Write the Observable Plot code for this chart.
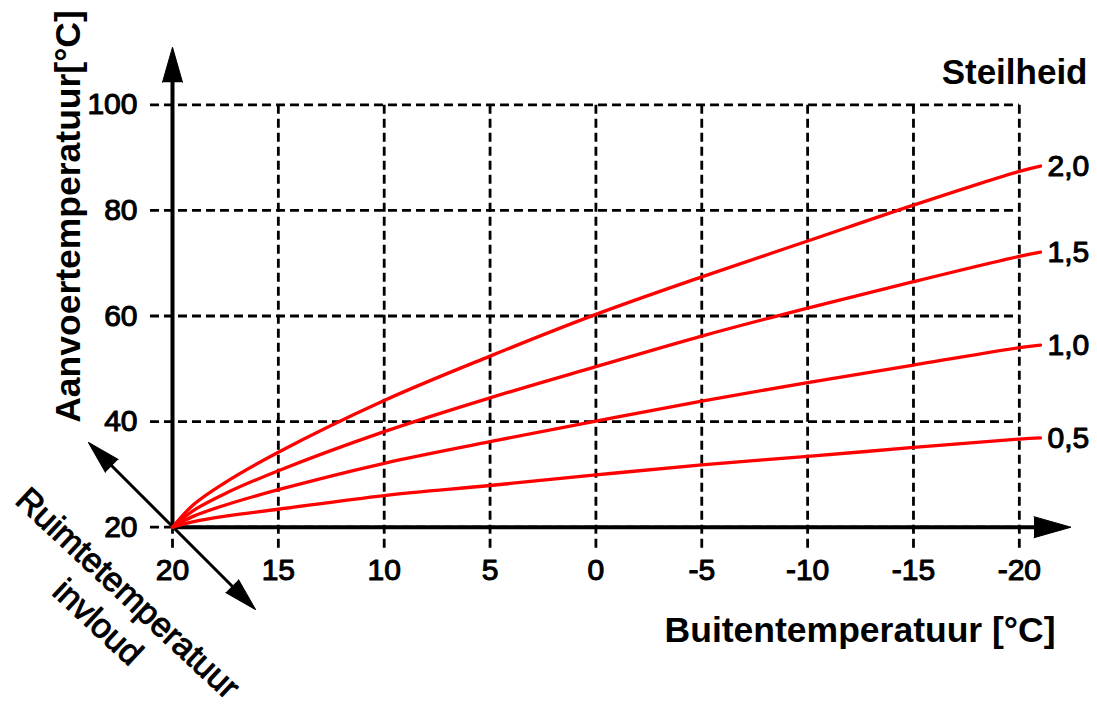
<!DOCTYPE html>
<html>
<head>
<meta charset="utf-8">
<script src="https://cdn.jsdelivr.net/npm/d3@7"></script>
<script src="https://cdn.jsdelivr.net/npm/@observablehq/plot@0.6"></script>
<style>
  html, body { margin: 0; padding: 0; background: white; }
  #chart svg { display: block; }
</style>
</head>
<body>
<div id="chart"></div>
<script>
// ---- data ----
const buitenTemp = [20, 19, 17.5, 15, 10, 5, 0, -5, -10, -15, -20, -21];
const steil20 = [20, 24.3, 28.5, 34.2, 44.0, 52.4, 60.3, 67.4, 74.2, 81.0, 87.4, 88.4];
const steil15 = [20, 23.2, 26.4, 30.7, 38.1, 44.5, 50.4, 56.2, 61.5, 66.5, 71.3, 72.1];
const steil10 = [20, 22.1, 24.2, 27.1, 32.1, 36.2, 40.1, 43.9, 47.4, 50.7, 54.0, 54.5];
const steil05 = [20, 21.05, 22.1, 23.4, 26.0, 27.9, 29.9, 31.8, 33.4, 35.1, 36.7, 36.9];
const steilLabels = ["2,0", "1,5", "1,0", "0,5"];
const xTicks = [20, 15, 10, 5, 0, -5, -10, -15, -20];
const yTicks = [20, 40, 60, 80, 100];

const series = [steil20, steil15, steil10, steil05];
const rows = [];
series.forEach((vals, i) => {
  vals.forEach((v, j) => rows.push({s: steilLabels[i], t: buitenTemp[j], v}));
});
const lastT = buitenTemp[buitenTemp.length - 1];
const endRows = rows.filter(d => d.t === lastT);

// axis decoration (data units)
const gridXStart = 21.04, gridXEnd = -20, gridYBottom = 16, gridYTop = 100;
const axisXEnd = -21, axisYEnd = 105;
const arrowHeads = [
  {x: -22.44, y: 20, rotate: 90, length: 37, r: 10.5},
  {x: 20, y: 110.9, rotate: 0, length: 35, r: 10},
  {x: 23.97, y: 36.04, rotate: -45, length: 33, r: 9},
  {x: 16.08, y: 4.42, rotate: 135, length: 33, r: 9}
];
const diagonal = [{x1: 22.98, y1: 32.06, x2: 17.07, y2: 8.39}];

const FONT = "'Liberation Sans', Arial, Helvetica, sans-serif";
const dash = "9,5";

const plot = Plot.plot({
  width: 1097,
  height: 707,
  marginLeft: 172,
  marginRight: 57,
  marginTop: 104.3,
  marginBottom: 180.3,
  x: {domain: [20, -21], axis: null},
  y: {domain: [20, 100], axis: null},
  style: {fontFamily: FONT, background: "white", color: "black", overflow: "visible"},
  marks: [
    // dashed grid
    Plot.ruleY(yTicks, {y: d => d, x1: gridXStart, x2: gridXEnd, stroke: "black", strokeWidth: 2.8, strokeDasharray: dash}),
    Plot.ruleX(xTicks, {x: d => d, y1: gridYBottom, y2: gridYTop, stroke: "black", strokeWidth: 2.8, strokeDasharray: dash}),
    // axis lines
    Plot.ruleX([20], {x: d => d, y1: 20, y2: axisYEnd, stroke: "black", strokeWidth: 4}),
    Plot.ruleY([20], {y: d => d, x1: 20, x2: axisXEnd, stroke: "black", strokeWidth: 4}),
    Plot.link(diagonal, {x1: "x1", y1: "y1", x2: "x2", y2: "y2", stroke: "black", strokeWidth: 3}),
    ...arrowHeads.map(a => Plot.vector([a], {
      x: "x", y: "y", rotate: a.rotate, length: a.length, r: a.r,
      shape: "spike", anchor: "end", fill: "black", stroke: "black", strokeWidth: 1
    })),
    // curves
    Plot.line(rows, {x: "t", y: "v", z: "s", stroke: "#ff0000", strokeWidth: 3.3, curve: "catmull-rom"}),
    Plot.text(endRows, {x: "t", y: "v", text: "s", textAnchor: "start", lineAnchor: "middle", dx: 7, fontSize: 30, fill: "black", stroke: "black", strokeWidth: 1.1}),
    // tick labels
    Plot.text(yTicks, {x: 20, y: d => d, text: d => String(d), textAnchor: "end", lineAnchor: "middle", dx: -35, fontSize: 30, fill: "black", stroke: "black", strokeWidth: 1.1}),
    Plot.text(xTicks, {x: d => d, y: 20, text: d => String(d), textAnchor: "middle", lineAnchor: "top", dy: 31, fontSize: 30, fill: "black", stroke: "black", strokeWidth: 1.1}),
    // titles
    Plot.text(["Steilheid"], {text: d => d, frameAnchor: "top-right", dx: 47, dy: -21.3, textAnchor: "end", lineAnchor: "bottom", fontSize: 35, fontWeight: "bold", fill: "black"}),
    Plot.text(["Buitentemperatuur [°C]"], {text: d => d, frameAnchor: "bottom-right", dx: 15, dy: 114.3, textAnchor: "end", lineAnchor: "bottom", fontSize: 35.5, fontWeight: "bold", fill: "black"}),
    Plot.text(["Aanvoertemperatuur[°C]"], {text: d => d, frameAnchor: "left", dx: -93, dy: -99.5, rotate: -90, textAnchor: "middle", lineAnchor: "bottom", fontSize: 35.5, fontWeight: "bold", fill: "black"}),
    Plot.text(["Ruimtetemperatuur"], {text: d => d, frameAnchor: "bottom-left", dx: -45, dy: 66.3, rotate: 43, textAnchor: "middle", lineAnchor: "middle", fontSize: 34, fill: "black", stroke: "black", strokeWidth: 1}),
    Plot.text(["invloud"], {text: d => d, frameAnchor: "bottom-left", dx: -75, dy: 95.3, rotate: 43, textAnchor: "middle", lineAnchor: "middle", fontSize: 34, fill: "black", stroke: "black", strokeWidth: 1})
  ]
});
document.getElementById("chart").appendChild(plot);
</script>
</body>
</html>
